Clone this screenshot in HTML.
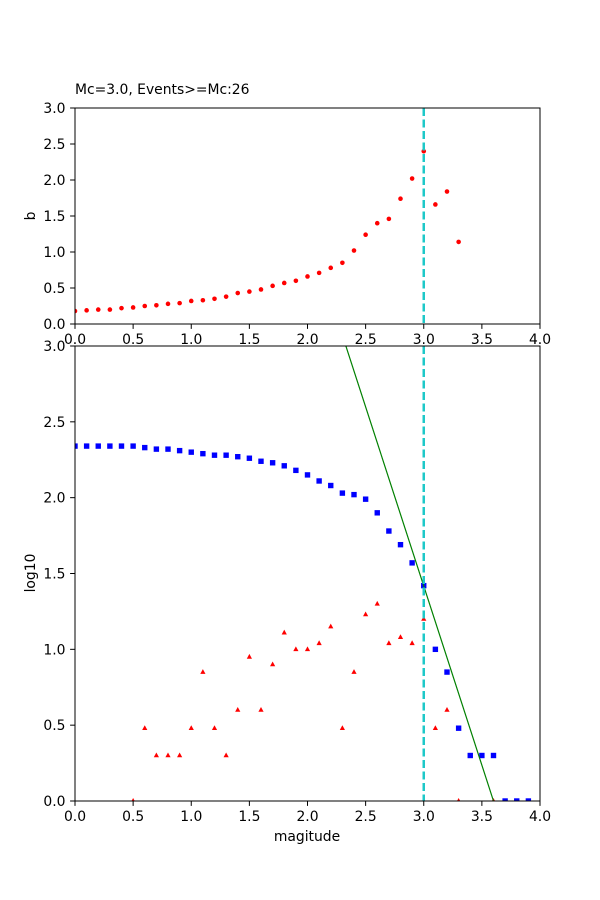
<!DOCTYPE html>
<html><head><meta charset="utf-8"><style>body{margin:0;background:#fff}svg{display:block}text{font-family:"DejaVu Sans","Liberation Sans",sans-serif;font-size:13.9px;fill:#000}</style></head>
<body><svg id="s" width="600" height="900" xmlns="http://www.w3.org/2000/svg"></svg>
<script>
const s=document.getElementById('s');let h='';
const X=v=>75+v*116.25;
const Y1=v=>324-v*72, Y2=v=>801-v*151.67;
const b=[0.18,0.19,0.2,0.2,0.22,0.23,0.25,0.26,0.28,0.29,0.32,0.33,0.35,0.38,0.43,0.45,0.48,0.53,0.57,0.6,0.66,0.71,0.78,0.85,1.02,1.24,1.4,1.46,1.74,2.02,2.4,1.66,1.84,1.14];
const bl=[2.34,2.34,2.34,2.34,2.34,2.34,2.33,2.32,2.32,2.31,2.3,2.29,2.28,2.28,2.27,2.26,2.24,2.23,2.21,2.18,2.15,2.11,2.08,2.03,2.02,1.99,1.9,1.78,1.69,1.57,1.42,1.0,0.85,0.48,0.3,0.3,0.3,0,0,0];
const tr={0.5:0,0.6:0.48,0.7:0.3,0.8:0.3,0.9:0.3,1.0:0.48,1.1:0.85,1.2:0.48,1.3:0.3,1.4:0.6,1.5:0.95,1.6:0.6,1.7:0.9,1.8:1.11,1.9:1.0,2.0:1.0,2.1:1.04,2.2:1.15,2.3:0.48,2.4:0.85,2.5:1.23,2.6:1.3,2.7:1.04,2.8:1.08,2.9:1.04,3.0:1.2,3.1:0.48,3.2:0.6,3.3:0,3.6:0};
function axes(top,bot,Y){
 let r=`<rect x="75" y="${top}" width="465" height="${bot-top}" fill="none" stroke="#000" stroke-width="1"/>`;
 for(let i=0;i<=8;i++){const v=i*0.5,x=X(v);r+=`<line x1="${x}" x2="${x}" y1="${bot}" y2="${bot+4.9}" stroke="#000"/><text x="${x}" y="${bot+20}" text-anchor="middle">${v.toFixed(1)}</text>`;}
 for(let i=0;i<=6;i++){const v=i*0.5,y=Y(v);r+=`<line x1="70.1" x2="75" y1="${y}" y2="${y}" stroke="#000"/><text x="65.5" y="${y+5}" text-anchor="end">${v.toFixed(1)}</text>`;}
 return r;}
h+=`<text x="75" y="94">Mc=3.0, Events&gt;=Mc:26</text>`;
h+=`<text transform="translate(35,216) rotate(-90)" text-anchor="middle">b</text>`;
h+=`<svg x="75" y="108" width="465" height="216" overflow="hidden"><g transform="translate(-75,-108)">`;
b.forEach((v,i)=>h+=`<circle cx="${X(i/10)}" cy="${Y1(v)}" r="2.3" fill="red"/>`);
h+=`<line x1="${X(3)}" x2="${X(3)}" y1="108" y2="324" stroke="#1ec8c8" stroke-width="2.5" stroke-dasharray="8,3.5"/>`;
h+=`</g></svg>`;
h+=axes(108,324,Y1);
h+=`<rect x="75" y="346" width="465" height="455" fill="#fff"/>`;
h+=`<svg x="75" y="346" width="465" height="455" overflow="hidden"><g transform="translate(-75,-346)">`;
bl.forEach((v,i)=>h+=`<rect x="${X(i/10)-2.7}" y="${Y2(v)-2.7}" width="5.4" height="5.4" fill="blue"/>`);
for(const k in tr){const x=X(+k),y=Y2(tr[k]);h+=`<polygon points="${x},${y-3} ${x-2.6},${y+1.8} ${x+2.6},${y+1.8}" fill="red"/>`;}
h+=`<line x1="${X(2.33)}" y1="${Y2(3)}" x2="${X(3.6)}" y2="${Y2(0)}" stroke="green" stroke-width="1.2"/>`;
h+=`<line x1="${X(3)}" x2="${X(3)}" y1="346" y2="801" stroke="#1ec8c8" stroke-width="2.5" stroke-dasharray="8,3.5"/>`;
h+=`</g></svg>`;
h+=axes(346,801,Y2);
h+=`<text transform="translate(35,573) rotate(-90)" text-anchor="middle">log10</text>`;
h+=`<text x="307" y="841" text-anchor="middle">magitude</text>`;
s.innerHTML=h;
</script></body></html>
